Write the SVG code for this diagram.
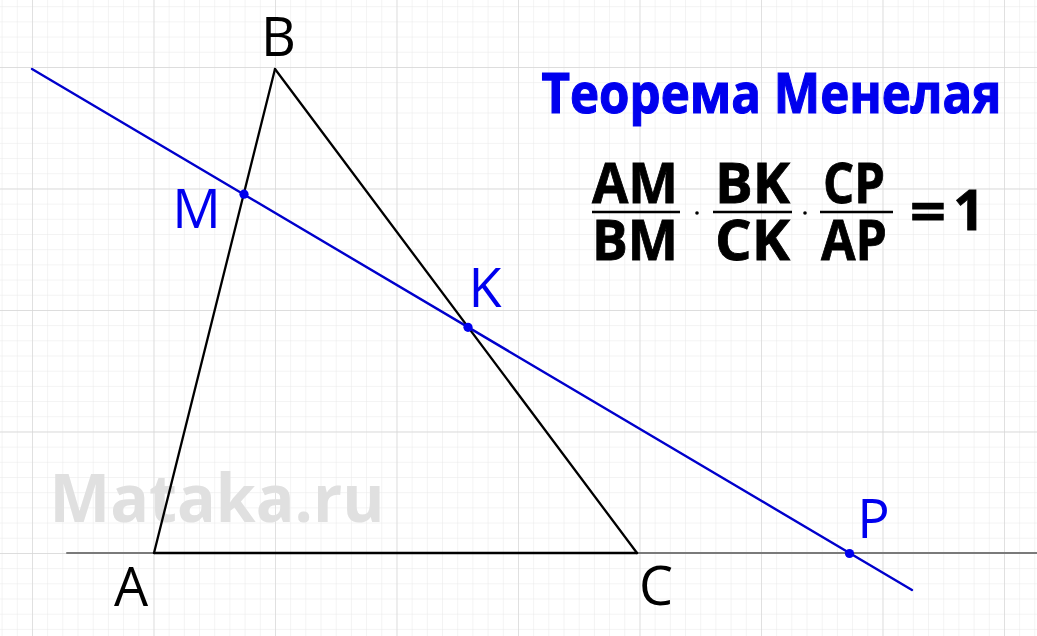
<svg xmlns="http://www.w3.org/2000/svg" width="1037" height="636" viewBox="0 0 1037 636">
<defs>
<pattern id="minor" x="1.6" y="6.2" width="15.1875" height="15.1875" patternUnits="userSpaceOnUse">
<path d="M0 0 H15.1875 M0 0 V15.1875" stroke="#e8e8e8" stroke-width="1" fill="none"/>
</pattern>
<pattern id="major" x="32" y="67" width="121.5" height="121.5" patternUnits="userSpaceOnUse">
<path d="M0 0 H121.5 M0 0 V121.5" stroke="#d6d6d6" stroke-width="1.3" fill="none"/>
</pattern>
<style>
.lbl{font-family:"Open Sans","Liberation Sans",sans-serif;font-size:54px;text-anchor:middle}
.blk{fill:#000}
.blu{fill:#0000ee}
.frac{font-family:"Open Sans","Liberation Sans",sans-serif;font-weight:bold;font-size:55px;fill:#000;stroke:#000;stroke-width:0.8;text-anchor:middle}
.dot{fill:#0000ee}
</style>
</defs>
<rect width="1037" height="636" fill="#fff"/>
<rect width="1037" height="636" fill="url(#minor)"/>
<rect width="1037" height="636" fill="url(#major)"/>
<text x="217" y="522" font-family="Open Sans,Liberation Sans,sans-serif" font-weight="bold" font-size="66" fill="#e0e0e0" text-anchor="middle" textLength="335" lengthAdjust="spacingAndGlyphs">Mataka.ru</text>
<g id="connectors" fill="none" stroke-linecap="round">
<line x1="67" y1="553" x2="1037" y2="553" stroke="#7a7a7a" stroke-width="2"/>
<line x1="154" y1="553" x2="637" y2="553" stroke="#000" stroke-width="2.3"/>
<line x1="154" y1="553" x2="275" y2="69" stroke="#000" stroke-width="2.3"/>
<line x1="275" y1="69" x2="637" y2="553" stroke="#000" stroke-width="2.3"/>
<line x1="32" y1="69" x2="912" y2="590" stroke="#0000cc" stroke-width="2.4"/>
</g>
<g id="A"><text class="lbl blk" x="131" y="606">A</text></g>
<g id="B"><text class="lbl blk" x="278.5" y="56">B</text></g>
<g id="C"><text class="lbl blk" x="656" y="605">C</text></g>
<g id="M"><circle class="dot" cx="244" cy="194.2" r="4.6"/><text class="lbl blu" x="196.5" y="228">M</text></g>
<g id="K"><circle class="dot" cx="468" cy="327.3" r="4.6"/><text class="lbl blu" x="485" y="307">K</text></g>
<g id="P"><circle class="dot" cx="849.5" cy="553.5" r="4.6"/><text class="lbl blu" x="873.5" y="538">P</text></g>
<g id="title"><text x="771.5" y="113" font-family="Open Sans,Liberation Sans,sans-serif" font-weight="bold" font-size="56" fill="#0000ee" stroke="#0000ee" stroke-width="1.2" text-anchor="middle" textLength="460" lengthAdjust="spacingAndGlyphs">Теорема Менелая</text></g>
<g id="formula">
<text class="frac" x="635" y="203" textLength="86" lengthAdjust="spacingAndGlyphs">AM</text>
<text class="frac" x="635" y="260" textLength="86" lengthAdjust="spacingAndGlyphs">BM</text>
<line x1="592" y1="212" x2="680" y2="212" stroke="#000" stroke-width="2.4"/>
<circle cx="697" cy="213" r="1.8" fill="#000"/>
<text class="frac" x="752.5" y="203" textLength="75" lengthAdjust="spacingAndGlyphs">BK</text>
<text class="frac" x="752.5" y="260" textLength="75" lengthAdjust="spacingAndGlyphs">CK</text>
<line x1="713" y1="212" x2="792" y2="212" stroke="#000" stroke-width="2.4"/>
<circle cx="805" cy="213" r="1.8" fill="#000"/>
<text class="frac" x="854" y="203" textLength="62" lengthAdjust="spacingAndGlyphs">CP</text>
<text class="frac" x="854" y="260" textLength="66" lengthAdjust="spacingAndGlyphs">AP</text>
<line x1="820" y1="212" x2="893" y2="212" stroke="#000" stroke-width="2.4"/>
<text class="frac" x="928" y="231" textLength="36" lengthAdjust="spacingAndGlyphs">=</text>
<text class="frac" x="969" y="230">1</text>
</g>
</svg>
